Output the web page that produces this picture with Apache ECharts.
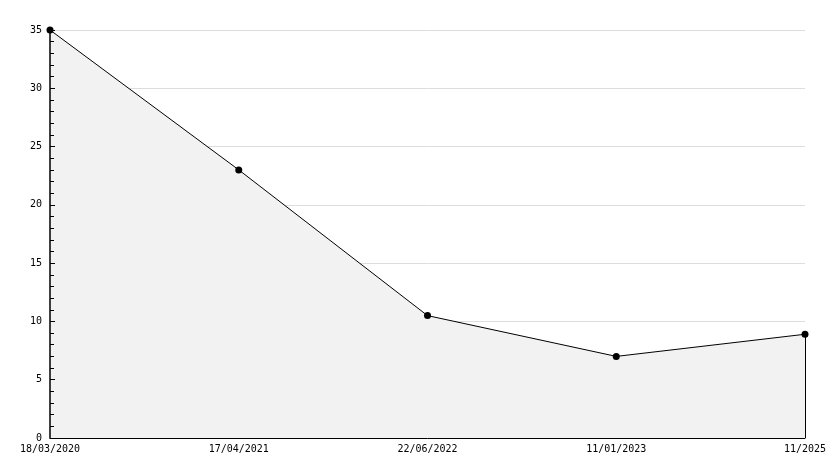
<!DOCTYPE html>
<html><head><meta charset="utf-8">
<script src="https://cdn.jsdelivr.net/npm/echarts@6/dist/echarts.min.js"></script>
<style>html,body{margin:0;padding:0;background:#fff}#c{width:834px;height:468px}</style>
</head><body><div id="c"></div>
<script>
const categories = ['18/03/2020', '17/04/2021', '22/06/2022', '11/01/2023', '11/2025'];
const values = [35, 23, 10.5, 7, 8.9];
const yMin = 0, yMax = 35, yStep = 5;

const font = 'DejaVu Sans Mono';
const chart = echarts.init(document.getElementById('c'), null, {renderer: 'canvas'});
const last = categories.length - 1;
chart.setOption({
  animation: false,
  grid: {left: 50, right: 29, top: 30, bottom: 30, containLabel: false},
  xAxis: {
    type: 'category', data: categories, boundaryGap: false, z: 10,
    axisLine: {lineStyle: {color: '#000', width: 1}},
    axisTick: {show: false},
    axisLabel: {fontFamily: font, fontSize: 10, color: '#000', margin: 6, interval: 0},
    splitLine: {show: false}
  },
  yAxis: [{
    type: 'value', min: yMin, max: yMax, interval: yStep, z: 0,
    axisLine: {show: false}, axisTick: {show: false}, axisLabel: {show: false},
    splitLine: {show: true, lineStyle: {color: '#dddddd', width: 1}}
  }, {
    type: 'value', min: yMin, max: yMax, interval: yStep, z: 10, position: 'left',
    axisLine: {show: true, lineStyle: {color: '#000', width: 1.5}},
    axisTick: {show: true, inside: true, length: 5, lineStyle: {color: '#000'}},
    minorTick: {show: true, splitNumber: 5, length: 4, lineStyle: {color: '#000'}},
    axisLabel: {fontFamily: font, fontSize: 10, color: '#000', margin: 8},
    splitLine: {show: false}
  }],
  series: [{
    type: 'line', data: values, yAxisIndex: 0,
    symbol: 'circle', symbolSize: 7,
    itemStyle: {color: '#000'},
    lineStyle: {color: '#000', width: 1},
    areaStyle: {color: '#f2f2f2', opacity: 1},
    markLine: {
      silent: true, symbol: 'none', label: {show: false},
      lineStyle: {color: '#000', width: 1, type: 'solid'},
      data: [[{coord: [categories[last], yMin]}, {coord: [categories[last], values[last]]}]]
    }
  }]
});
</script></body></html>
